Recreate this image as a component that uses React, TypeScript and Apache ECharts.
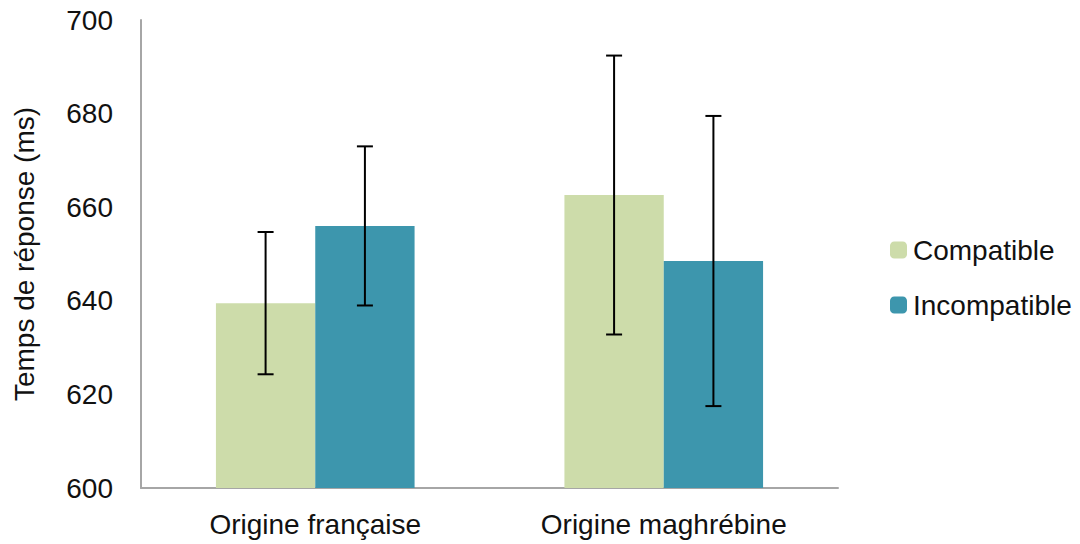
import React, { useEffect, useRef } from "react";
import * as echarts from "echarts";

const categories = ["Origine française", "Origine maghrébine"];
const seriesNames = ["Compatible", "Incompatible"];
const compatibleMeans = [639.5, 662.6];
const incompatibleMeans = [656.0, 648.5];
const compatibleErr = [15.2, 29.8];
const incompatibleErr = [17.0, 31.0];
const yTicks = { min: 600, max: 700, interval: 20 };
const colors = ["#CDDCAA", "#3D96AD"];

const FONT = "'Liberation Sans', Arial, Helvetica, sans-serif";
const CAT_GAP = 0.43;

function errorData(means: number[], errs: number[]) {
  return means.map((m, i) => [i, m - errs[i], m + errs[i]]);
}

function makeErrorSeries(data: number[][], side: number) {
  return {
    type: "custom",
    name: "err" + side,
    data,
    z: 10,
    silent: true,
    encode: { x: 0, y: [1, 2] },
    renderItem: (params: any, api: any) => {
      const idx = api.value(0);
      const lo = api.coord([idx, api.value(1)]);
      const hi = api.coord([idx, api.value(2)]);
      const band = api.size([1, 0])[0];
      const barW = (band * (1 - CAT_GAP)) / 2;
      const x = lo[0] + side * barW / 2;
      const cap = 8;
      const style = { stroke: "#000", lineWidth: 2 };
      return {
        type: "group",
        children: [
          { type: "line", shape: { x1: x, y1: lo[1], x2: x, y2: hi[1] }, style },
          { type: "line", shape: { x1: x - cap, y1: lo[1], x2: x + cap, y2: lo[1] }, style },
          { type: "line", shape: { x1: x - cap, y1: hi[1], x2: x + cap, y2: hi[1] }, style },
        ],
      };
    },
  };
}

export default function App() {
  const ref = useRef<HTMLDivElement>(null);
  useEffect(() => {
    if (!ref.current) return;
    const chart = echarts.init(ref.current, null, { renderer: "svg" });
    chart.setOption({
      animation: false,
      backgroundColor: "#fff",
      grid: { left: 141, top: 20, right: 242, bottom: 56 },
      legend: {
        orient: "vertical",
        left: 885,
        top: 231,
        itemWidth: 17,
        itemHeight: 17,
        itemGap: 27,
        data: seriesNames,
        textStyle: { fontFamily: FONT, fontSize: 28, color: "#111", padding: [0, 0, 0, 1] },
      },
      xAxis: {
        type: "category",
        data: categories,
        axisLine: { lineStyle: { color: "#A6A6A6", width: 2 } },
        axisTick: { show: false },
        axisLabel: { fontFamily: FONT, fontSize: 28, color: "#111", margin: 22 },
      },
      yAxis: {
        type: "value",
        min: yTicks.min,
        max: yTicks.max,
        interval: yTicks.interval,
        name: "Temps de réponse (ms)",
        nameLocation: "middle",
        nameGap: 103,
        nameTextStyle: { fontFamily: FONT, fontSize: 28, color: "#111" },
        axisLine: { show: true, lineStyle: { color: "#A6A6A6", width: 2 } },
        axisTick: { show: false },
        splitLine: { show: false },
        axisLabel: { fontFamily: FONT, fontSize: 28, color: "#111", margin: 28 },
      },
      series: [
        {
          type: "bar",
          name: seriesNames[0],
          data: compatibleMeans,
          itemStyle: { color: colors[0] },
          barGap: "0%",
          barCategoryGap: CAT_GAP * 100 + "%",
        },
        {
          type: "bar",
          name: seriesNames[1],
          data: incompatibleMeans,
          itemStyle: { color: colors[1] },
          barGap: "0%",
          barCategoryGap: CAT_GAP * 100 + "%",
        },
        makeErrorSeries(errorData(compatibleMeans, compatibleErr), -1),
        makeErrorSeries(errorData(incompatibleMeans, incompatibleErr), 1),
      ],
    });
    return () => chart.dispose();
  }, []);
  return <div ref={ref} style={{ width: 1080, height: 544, position: "absolute", left: 0, top: 0 }} />;
}
